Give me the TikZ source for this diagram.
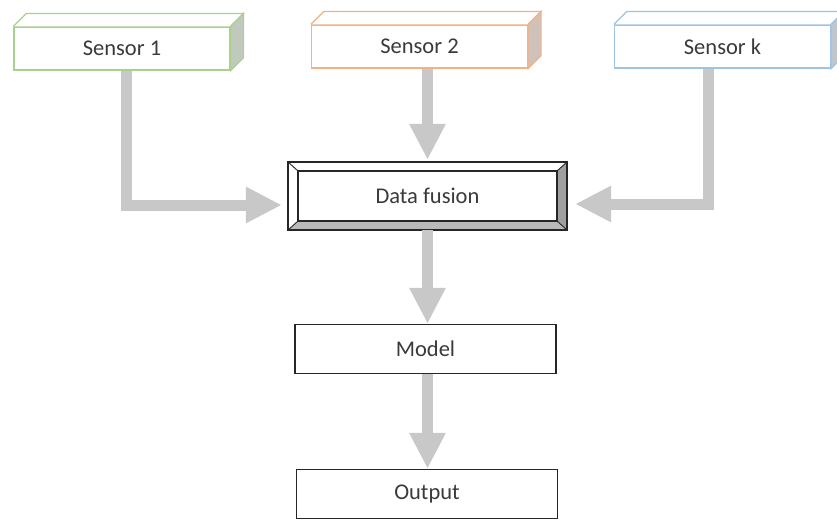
\documentclass[tikz,border=0pt]{standalone}
\usepackage{fontspec}
\setmainfont{Carlito}
\usetikzlibrary{arrows.meta}
\definecolor{sgreen}{HTML}{A9D18E}
\definecolor{sorange}{HTML}{F4B183}
\definecolor{sblue}{HTML}{9DC3E6}
\definecolor{flowgray}{HTML}{C8C8C8}
\definecolor{txt}{HTML}{3A3A3A}
\tikzset{
  sensorbox/.style={draw=#1, line width=1.2pt, fill=white, minimum width=216pt, minimum height=43pt,
    inner sep=0pt, font=\fontsize{22.5}{25}\selectfont, text=txt},
  plainbox/.style={draw=black!85, line width=1.4pt, fill=white, minimum width=261pt, minimum height=49pt,
    inner sep=0pt, font=\fontsize{22.5}{25}\selectfont, text=txt},
  flow/.style={draw=flowgray, line width=11pt, line join=miter,
    -{Triangle[width=34pt,length=36pt]}},
}
\newcommand{\sensorcube}[2]{%
  \fill[white] (#1.north west) -- ++(13,-13) -- ([shift={(13,-13)}]#1.north east) -- (#1.north east) -- cycle;
  \draw[#2, line width=1.2pt] (#1.north west) -- ++(13,-13) -- ([shift={(13,-13)}]#1.north east) -- (#1.north east);
  \filldraw[draw=#2, fill=#2!35!gray!55, line width=1.2pt] (#1.north east) -- ++(13,-13) -- ([shift={(13,-13)}]#1.south east) -- (#1.south east) -- cycle;
}
\begin{document}
\begin{tikzpicture}[x=1pt, y=-1pt]
\useasboundingbox (0,0) rectangle (837,520);
\fill[white] (0,0) rectangle (837,520);

% sensors
\node[sensorbox=sgreen] (s1) at (122,48.5) {Sensor 1};
\node[sensorbox=sorange] (s2) at (419.5,46.5) {Sensor 2};
\node[sensorbox=sblue] (sk) at (722.5,46.5) {Sensor k};
\sensorcube{s1}{sgreen}
\sensorcube{s2}{sorange}
\sensorcube{sk}{sblue}

% data fusion (bevelled box)
\node[minimum width=279pt, minimum height=68pt, inner sep=0pt] (df) at (427.5,196) {};
\coordinate (dfi-nw) at ([shift={(10,9)}]df.north west);
\coordinate (dfi-ne) at ([shift={(-10,9)}]df.north east);
\coordinate (dfi-sw) at ([shift={(10,-9)}]df.south west);
\coordinate (dfi-se) at ([shift={(-10,-9)}]df.south east);
\fill[white] (df.north west) rectangle (df.south east);
\fill[gray!75] (df.north east) -- (dfi-ne) -- (dfi-se) -- (df.south east) -- cycle;
\fill[gray!55] (df.south west) -- (dfi-sw) -- (dfi-se) -- (df.south east) -- cycle;
\draw[black!85, line width=1.5pt] (df.north west) rectangle (df.south east);
\draw[black!85, line width=1.5pt] (dfi-nw) rectangle (dfi-se);
\draw[black!85, line width=0.9pt] (df.north west) -- (dfi-nw) (df.north east) -- (dfi-ne)
  (df.south west) -- (dfi-sw) (df.south east) -- (dfi-se);
\node[font=\fontsize{22.5}{25}\selectfont, text=txt] (dft) at (df.center) {Data fusion};

% model & output
\node[plainbox] (model) at (425.5,349) {Model};
\node[plainbox] (out) at (427,494) {Output};

% connectors
\draw[flow, shorten >=6pt] ([xshift=4]s1.south) |- ([yshift=-9]df.west);
\draw[flow, shorten >=8pt] ([xshift=-14.5]sk.south) |- ([yshift=-8]df.east);
\draw[flow, shorten >=2pt] (s2.south -| df.north) -- (df.north);
\draw[flow] (df.south) -- (df.south |- model.north);
\draw[flow] (model.south -| df.south) -- (df.south |- out.north);
\end{tikzpicture}
\end{document}
